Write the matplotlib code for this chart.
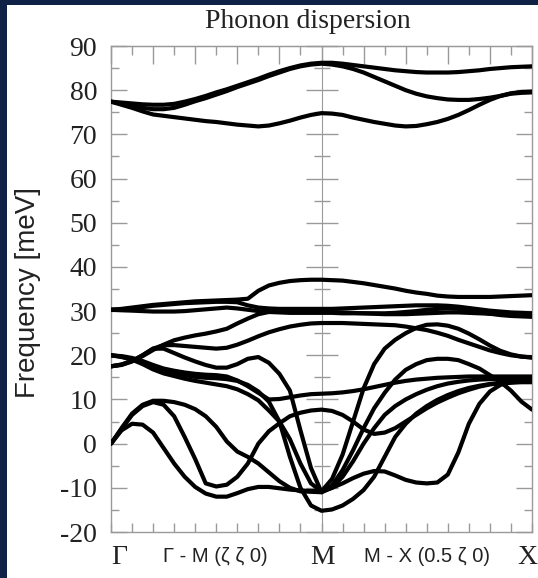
import matplotlib
matplotlib.use("Agg")
import matplotlib.pyplot as plt
import numpy as np
from matplotlib.patches import Rectangle
from matplotlib.ticker import MultipleLocator

plt.rcParams['font.family'] = 'serif'
plt.rcParams['font.serif'] = ['Liberation Serif', 'DejaVu Serif']
plt.rcParams['axes.unicode_minus'] = False

# path coordinate: Gamma = 0, M = 1, X = 2, sampled every 0.05
q = np.round(np.arange(41) * 0.05, 2)

# optical branches above 70 meV
h1 = [77.4, 77.2, 77.0, 76.8, 76.7, 76.7, 76.9, 77.4, 78.0, 78.7, 79.5, 80.2, 81.0, 81.8, 82.6, 83.5, 84.3, 85.0, 85.6, 86.0, 86.2,
      86.2, 86.0, 85.7, 85.4, 85.1, 84.8, 84.5, 84.3, 84.1, 84.0, 84.0, 84.0, 84.1, 84.3, 84.5, 84.8, 85.0, 85.2, 85.3, 85.4]
h2 = [77.4, 77.0, 76.5, 76.0, 75.7, 75.7, 76.0, 76.7, 77.5, 78.2, 79.0, 79.8, 80.7, 81.5, 82.3, 83.2, 84.0, 84.8, 85.4, 85.8, 86.0,
      85.8, 85.4, 84.8, 84.0, 83.0, 82.0, 81.0, 80.0, 79.2, 78.6, 78.2, 77.9, 77.8, 77.8, 78.0, 78.3, 78.7, 79.2, 79.4, 79.5]
h3 = [77.4, 76.7, 76.0, 75.2, 74.5, 74.2, 73.9, 73.6, 73.3, 73.0, 72.8, 72.5, 72.2, 72.0, 71.8, 72.0, 72.5, 73.1, 73.8, 74.4, 74.8,
      74.7, 74.4, 73.8, 73.3, 72.8, 72.4, 72.0, 71.8, 71.9, 72.3, 72.8, 73.5, 74.4, 75.5, 76.7, 77.8, 78.7, 79.3, 79.6, 79.7]

# branches between 17 and 37 meV
l1 = [30.3, 30.5, 30.8, 31.1, 31.4, 31.6, 31.8, 32.0, 32.2, 32.3, 32.4, 32.5, 32.6, 32.8, 34.6, 35.8, 36.4, 36.8, 37.0, 37.1, 37.1,
      37.0, 36.9, 36.6, 36.3, 35.9, 35.5, 35.1, 34.6, 34.2, 33.9, 33.5, 33.3, 33.2, 33.2, 33.2, 33.2, 33.3, 33.4, 33.5, 33.6]
l2 = [30.3, 30.4, 30.6, 30.9, 31.2, 31.4, 31.6, 31.8, 31.9, 32.0, 32.1, 32.1, 32.0, 31.3, 30.8, 30.6, 30.5, 30.5, 30.5, 30.5, 30.5,
      30.5, 30.6, 30.7, 30.8, 30.9, 31.0, 31.1, 31.2, 31.3, 31.3, 31.3, 31.2, 31.0, 30.7, 30.4, 30.1, 29.9, 29.7, 29.6, 29.5]
l3 = [30.3, 30.2, 30.1, 30.0, 29.9, 29.9, 29.9, 30.0, 30.2, 30.4, 30.6, 30.8, 30.6, 30.3, 30.0, 29.8, 29.7, 29.6, 29.6, 29.6, 29.6,
      29.6, 29.5, 29.5, 29.5, 29.5, 29.5, 29.6, 29.8, 30.0, 30.3, 30.5, 30.6, 30.5, 30.2, 29.8, 29.4, 29.1, 28.9, 28.8, 28.7]
l4 = [17.5, 17.8, 18.6, 19.8, 21.2, 22.4, 23.4, 24.0, 24.5, 24.9, 25.4, 26.0, 27.2, 28.3, 29.3, 29.8, 30.0, 30.0, 29.9, 29.8, 29.8,
      29.8, 29.7, 29.6, 29.5, 29.4, 29.3, 29.3, 29.3, 29.4, 29.5, 29.6, 29.7, 29.7, 29.6, 29.5, 29.4, 29.3, 29.2, 29.1, 29.0]
l5 = [17.5, 17.9, 18.7, 20.0, 21.5, 22.3, 22.3, 22.1, 21.9, 21.7, 21.5, 21.7, 22.4, 23.3, 24.3, 25.2, 25.9, 26.5, 26.9, 27.2, 27.3,
      27.3, 27.3, 27.2, 27.1, 27.0, 26.9, 26.8, 26.5, 26.1, 25.7, 25.1, 24.4, 23.5, 22.7, 21.9, 21.1, 20.5, 20.0, 19.7, 19.5]
l6 = [17.5, 17.9, 18.7, 20.0, 21.5, 21.5, 20.5, 19.5, 18.6, 17.8, 17.2, 17.2, 18.0, 19.2, 19.6, 18.3, 15.8, 12.0, 3.0, -5.5, -11.0,
      -9.5, -6.0, -1.5, 3.5, 8.0, 11.5, 14.5, 16.7, 18.0, 18.9, 19.2, 19.2, 18.9, 18.0, 17.0, 15.5, 14.0, 12.0, 9.5, 7.7]

# branches starting at 20 meV
d1 = [20.0, 19.8, 19.4, 18.7, 17.8, 17.0, 16.5, 16.1, 15.8, 15.6, 15.5, 15.2, 14.3, 13.0, 11.5, 10.0, 10.1, 10.5, 10.9, 11.2, 11.3,
      11.4, 11.6, 11.9, 12.3, 12.8, 13.3, 13.8, 14.2, 14.5, 14.7, 14.9, 15.0, 15.1, 15.2, 15.2, 15.2, 15.2, 15.2, 15.2, 15.2]
d2 = [20.0, 19.7, 19.2, 18.4, 17.4, 16.6, 16.0, 15.5, 15.1, 14.9, 14.8, 14.6, 14.2, 13.3, 11.8, 9.5, 5.0, -3.0, -10.0, -14.0, -15.2,
      -14.9, -14.0, -12.5, -10.5, -7.5, -3.0, 1.5, 4.5, 6.8, 8.5, 9.9, 11.0, 11.9, 12.6, 13.1, 13.5, 13.7, 13.8, 13.9, 13.9]
d3 = [20.0, 19.6, 19.0, 18.0, 16.8, 15.9, 15.3, 14.7, 14.2, 13.8, 13.4, 13.0, 12.3, 11.2, 9.8, 7.5, 5.0, 1.0, -4.5, -9.0, -10.8,
      -8.0, -2.5, 5.0, 12.5, 18.0, 21.5, 23.5, 25.0, 26.2, 26.9, 27.0, 26.7, 26.0, 24.9, 23.6, 22.2, 21.0, 20.2, 19.7, 19.5]

# acoustic-like branches starting at 0
a1 = [0.0, 3.5, 6.8, 8.8, 9.7, 9.7, 9.4, 8.8, 7.8, 6.2, 3.8, 0.5, -1.8, -3.0, -4.5, -6.5, -8.5, -10.0, -10.8, -10.9, -11.0,
      -10.0, -7.5, -4.0, 0.0, 3.5, 6.5, 8.5, 10.0, 11.2, 12.2, 13.0, 13.6, 14.0, 14.3, 14.5, 14.6, 14.6, 14.6, 14.6, 14.6]
a2 = [0.0, 3.0, 4.5, 4.3, 2.5, -1.0, -4.5, -7.5, -9.8, -11.3, -12.0, -12.0, -11.2, -10.3, -9.8, -9.8, -10.1, -10.4, -10.6, -10.7, -10.7,
      -10.0, -9.0, -7.8, -6.8, -6.2, -6.3, -7.2, -8.2, -8.8, -9.0, -8.8, -7.0, -2.0, 4.5, 9.0, 11.8, 13.3, 13.9, 14.1, 14.2]
a3 = [0.0, 3.3, 6.5, 8.5, 9.4, 8.8, 6.2, 1.5, -3.5, -9.0, -9.7, -9.3, -7.5, -4.5, 0.0, 2.8, 4.6, 6.2, 7.0, 7.5, 7.7,
      7.4, 6.5, 5.0, 3.2, 2.2, 2.5, 3.5, 5.0, 6.5, 8.0, 9.3, 10.4, 11.4, 12.2, 12.9, 13.4, 13.7, 13.9, 14.0, 14.0]

branches = [h1, h2, h3, l1, l2, l3, l4, l5, l6, d1, d2, d3, a1, a2, a3]

W, H = 538, 578
fig = plt.figure(figsize=(W / 100, H / 100), dpi=100)
fig.patch.set_facecolor('#0f2245')
fig.add_artist(Rectangle((7 / W, 0), 1, 1 - 5 / H, transform=fig.transFigure,
                         facecolor='white', edgecolor='none', zorder=-1))

ax = fig.add_axes([111 / W, 1 - 532 / H, 421 / W, 486 / H])
for b in branches:
    ax.plot(q, b, color='black', lw=3.0, solid_capstyle='round', solid_joinstyle='round', zorder=3)

ax.set_xlim(0, 2)
ax.set_ylim(-20, 90)
grey = '#9a9a9a'
for s in ax.spines.values():
    s.set_color(grey)
    s.set_linewidth(1.0)

ax.yaxis.set_major_locator(MultipleLocator(10))
ax.yaxis.set_minor_locator(MultipleLocator(5))
ax.tick_params(axis='y', which='both', direction='in', left=True, right=True, color=grey, width=1,
               labelsize=20, pad=10, labelcolor='#222222')
ax.tick_params(axis='y', which='major', length=11.5)
ax.tick_params(axis='y', which='minor', length=5.8)

ax.xaxis.set_major_locator(MultipleLocator(0.1))
ax.tick_params(axis='x', which='major', direction='in', bottom=True, top=False, length=6.5,
               color=grey, width=1, labelbottom=False)

# top ticks: alternating long/short
top = ax.secondary_xaxis('top')
top.xaxis.set_major_locator(MultipleLocator(0.2))
top.xaxis.set_minor_locator(MultipleLocator(0.1))
top.tick_params(which='both', direction='in', color=grey, width=1, labeltop=False)
top.tick_params(which='major', length=13)
top.tick_params(which='minor', length=6.5)
top.spines['top'].set_color(grey)

# vertical line at M with crossing ticks
mid = ax.secondary_yaxis(0.5)
mid.yaxis.set_major_locator(MultipleLocator(10))
mid.yaxis.set_minor_locator(MultipleLocator(5))
mid.tick_params(which='both', direction='inout', color=grey, width=1, labelleft=False, labelright=False)
mid.tick_params(which='major', length=23)
mid.tick_params(which='minor', length=11.5)
for s in mid.spines.values():
    s.set_color(grey)
    s.set_linewidth(0.8)

fig.text(308 / W, 1 - 28 / H, 'Phonon dispersion', ha='center', va='baseline', fontsize=20, color='#222222')
fig.text(28 / W, 1 - 293 / H, 'Frequency [meV]', rotation=90, ha='center', va='center',
         fontsize=20, family='Liberation Sans', color='#222222')

ylab = 1 - 557 / H
for x, s in [(119, '\u0393'), (323, 'M'), (527, 'X')]:
    fig.text(x / W, ylab, s, ha='center', va='center', fontsize=20, color='#222222')
for x, s in [(215, '\u0393 - M (\u03b6 \u03b6 0)'), (427, 'M - X (0.5 \u03b6 0)')]:
    fig.text(x / W, ylab, s, ha='center', va='center', fontsize=14.5,
             family=['Liberation Sans Narrow', 'Liberation Sans'], color='#222222')

fig.savefig('out.png', dpi=100, facecolor=fig.get_facecolor())
